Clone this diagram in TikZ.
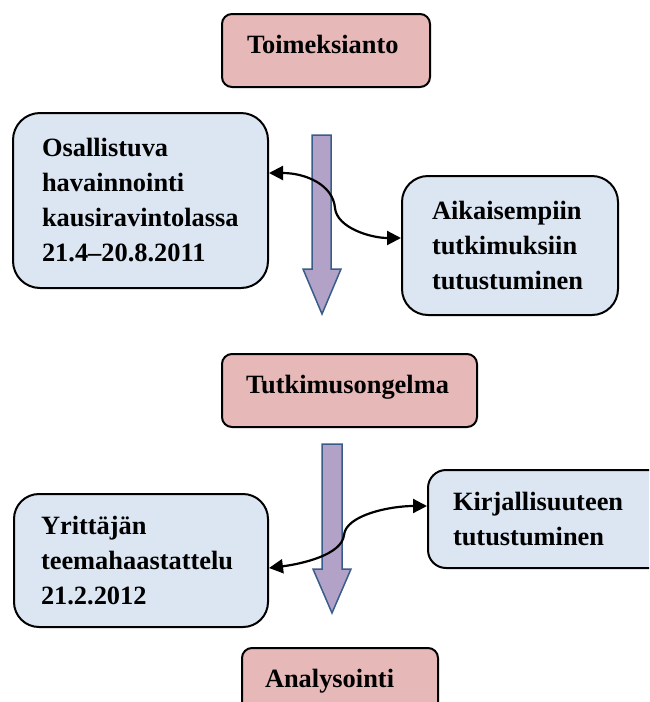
\documentclass[tikz,border=0pt]{standalone}
\usepackage{fontspec}
\setmainfont{Liberation Serif}
\usetikzlibrary{arrows.meta}
\definecolor{pinkfill}{HTML}{E6B9B8}
\definecolor{bluefill}{HTML}{DCE6F2}
\definecolor{purplefill}{HTML}{B3A2C7}
\definecolor{arrowline}{HTML}{385D8A}
\begin{document}
\begin{tikzpicture}[x=1pt,y=-1pt,
  box/.style={draw=black, line width=2pt, anchor=north west, align=left,
    font=\fontsize{26.4}{35}\selectfont\bfseries, inner ysep=0pt},
  pinkbox/.style={box, fill=pinkfill, rounded corners=10pt, minimum height=73pt, text depth=13pt},
  bluebox/.style={box, fill=bluefill},
  bigarrow/.style={fill=purplefill, draw=arrowline, line width=1.5pt, line join=miter},
  dbl/.style={{Triangle[length=14pt,width=14pt]}-{Triangle[length=14pt,width=14pt]}, line width=2.2pt, draw=black}]
\clip (0,0) rectangle (649,702);
\fill[white] (0,0) rectangle (649,702);

\node[pinkbox, minimum width=208pt, inner xsep=25pt, text width=158pt] (toim) at (221,13) {Toimeksianto};
\node[bluebox, rounded corners=27pt, minimum width=255pt, minimum height=175pt, inner xsep=29pt, text width=197pt] (osal) at (12,112) {Osallistuva\\havainnointi\\kausiravintolassa\\21.4–20.8.2011};
\node[bluebox, rounded corners=26pt, minimum width=216pt, minimum height=139pt, inner xsep=30pt, text width=156pt] (aik) at (401,175) {Aikaisempiin\\tutkimuksiin\\tutustuminen};
\node[pinkbox, minimum width=255pt, inner xsep=24pt, text width=207pt] (tutk) at (221,353) {Tutkimusongelma};
\node[bluebox, rounded corners=25pt, minimum width=254pt, minimum height=133pt, inner xsep=27pt, text width=200pt] (yrit) at (13,493) {Yrittäjän\\teemahaastattelu\\21.2.2012};
\node[bluebox, rounded corners=18pt, minimum width=260pt, minimum height=98pt, inner xsep=25pt, text width=210pt] (kirj) at (427,469) {Kirjallisuuteen\\tutustuminen};
\node[pinkbox, minimum width=196pt, inner xsep=23pt, text width=150pt] (anal) at (241,647) {Analysointi};

\draw[bigarrow] (312,135) -- (331,135) -- (331,269) -- (341,269) -- (322,314) -- (303,269) -- (312,269) -- cycle;
\draw[bigarrow] (322,444) -- (342,444) -- (342,569) -- (351,569) -- (332,613) -- (313,569) -- (322,569) -- cycle;

\coordinate (m1) at (335,208);
\draw[dbl] ([yshift=27.5pt]osal.east) .. controls +(37,0) and +(-2,-23) .. (m1) .. controls +(2,20) and +(-30,0) .. ([yshift=7.5pt]aik.west);
\coordinate (m2) at (344,535);
\draw[dbl] ([yshift=-7.5pt]yrit.east) .. controls +(32,-4) and +(-2,20) .. (m2) .. controls +(2,-20) and +(-37,0) .. ([yshift=13pt]kirj.west);
\end{tikzpicture}
\end{document}
